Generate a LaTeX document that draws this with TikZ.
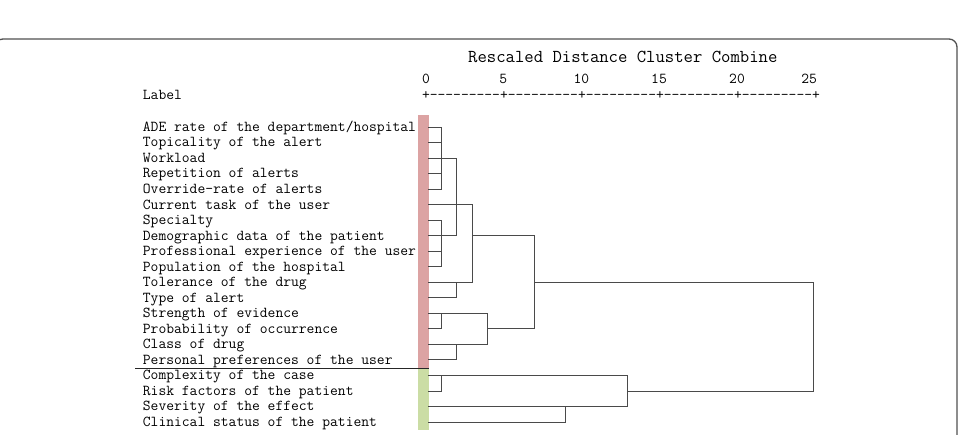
\documentclass[tikz,border=0pt]{standalone}
\usepackage{fontspec}
\definecolor{pinkbar}{HTML}{DCA3A3}
\definecolor{greenbar}{HTML}{CBDDA5}
\definecolor{frameclr}{HTML}{505050}
\definecolor{dendro}{HTML}{4A4A4A}
\newcommand{\dgLblFont}{\fontsize{15.15}{16}\selectfont\ttfamily}
\newcommand{\dgTitleFont}{\fontsize{18.2}{19}\selectfont\ttfamily}
\begin{document}
\begin{tikzpicture}[x=1pt,y=-1pt,
  lbl/.style={anchor=base west,inner sep=0pt,font=\dgLblFont,text=black},
  num/.style={anchor=base,inner sep=0pt,font=\dgLblFont,text=black},
  dline/.style={draw=dendro,line width=1.1pt,line cap=rect},
]
\useasboundingbox (0,0) rectangle (961,434);
\begin{scope}
\clip (0,0) rectangle (961,434);
\draw[frameclr,line width=1.3pt,rounded corners=8pt] (-5,39) rectangle (957,470);
\end{scope}

% header
\node[anchor=base,inner sep=0pt,font=\dgTitleFont,text=black] (title) at (622.8,62.7) {Rescaled Distance Cluster Combine};
\node[num] (n0) at (426,83.3) {0};
\node[num] (n5) at (503.3,83.3) {5};
\node[num] (n10) at (581.3,83.3) {10};
\node[num] (n15) at (659,83.3) {15};
\node[num] (n20) at (737,83.3) {20};
\node[num] (n25) at (809.2,83.3) {25};
\node[lbl] (label) at (142.7,99.3) {Label};
\node[lbl] (axis) at (421.8,99.3) {+---------+---------+---------+---------+---------+};

% colour bars
\fill[pinkbar] (417.5,115) rectangle (429,368.3);
\fill[greenbar] (417.5,368.3) rectangle (429,430);
\coordinate (sepL) at (135,368.3);
\coordinate (sepR) at (429,368.3);
\draw[black!85,line width=1.4pt] (sepL) -- (sepR);

% labels
\node[lbl] (t1) at (142.7,131.3) {ADE rate of the department/hospital};
\node[lbl] (t2) at (142.7,146.8) {Topicality of the alert};
\node[lbl] (t3) at (142.7,162.4) {Workload};
\node[lbl] (t4) at (142.7,177.9) {Repetition of alerts};
\node[lbl] (t5) at (142.7,193.4) {Override-rate of alerts};
\node[lbl] (t6) at (142.7,209.0) {Current task of the user};
\node[lbl] (t7) at (142.7,224.5) {Specialty};
\node[lbl] (t8) at (142.7,240.0) {Demographic data of the patient};
\node[lbl] (t9) at (142.7,255.5) {Professional experience of the user};
\node[lbl] (t10) at (142.7,271.1) {Population of the hospital};
\node[lbl] (t11) at (142.7,286.6) {Tolerance of the drug};
\node[lbl] (t12) at (142.7,302.1) {Type of alert};
\node[lbl] (t13) at (142.7,317.7) {Strength of evidence};
\node[lbl] (t14) at (142.7,333.2) {Probability of occurrence};
\node[lbl] (t15) at (142.7,348.7) {Class of drug};
\node[lbl] (t16) at (142.7,364.3) {Personal preferences of the user};
\node[lbl] (t17) at (142.7,379.8) {Complexity of the case};
\node[lbl] (t18) at (142.7,395.3) {Risk factors of the patient};
\node[lbl] (t19) at (142.7,410.8) {Severity of the effect};
\node[lbl] (t20) at (142.7,426.4) {Clinical status of the patient};

% leaf points
\coordinate (r1) at (429,127.5);
\coordinate (r2) at (429,142.5);
\coordinate (r3) at (429,158.5);
\coordinate (r4) at (429,173.5);
\coordinate (r5) at (429,189.5);
\coordinate (r6) at (429,204.5);
\coordinate (r7) at (429,220.5);
\coordinate (r8) at (429,235.5);
\coordinate (r9) at (429,251.5);
\coordinate (r10) at (429,266.5);
\coordinate (r11) at (429,282.5);
\coordinate (r12) at (429,297.5);
\coordinate (r13) at (429,313.5);
\coordinate (r14) at (429,328.5);
\coordinate (r15) at (429,344.5);
\coordinate (r16) at (429,359.5);
\coordinate (r17) at (429,375.5);
\coordinate (r18) at (429,391.5);
\coordinate (r19) at (429,406.5);
\coordinate (r20) at (429,422.5);

% distance levels
\coordinate (L1) at (441.5,0);
\coordinate (L2) at (456.5,0);
\coordinate (L3) at (472.5,0);
\coordinate (L4) at (487.5,0);
\coordinate (L7) at (534.5,0);
\coordinate (L9) at (565.5,0);
\coordinate (L13) at (627.5,0);
\coordinate (L25) at (813.5,0);

% cluster 1-5
\draw[dline] (r1) -- (r1 -| L1) -- (r5 -| L1) -- (r5);
\draw[dline] (r2) -- (r2 -| L1);
\draw[dline] (r4) -- (r4 -| L1);
\draw[dline] (r3) -- (r3 -| L2) -- (r8 -| L2);
% cluster 7-10
\draw[dline] (r7) -- (r7 -| L1) -- (r10 -| L1) -- (r10);
\draw[dline] (r9) -- (r9 -| L1);
\draw[dline] (r8) -- (r8 -| L2);
% level 3
\draw[dline] (r6) -- (r6 -| L3) -- (r11 -| L3) -- (r11);
\draw[dline] (r12) -- (r12 -| L2) -- (r11 -| L2);
% 13-16
\draw[dline] (r13) -- (r13 -| L4) -- (r15 -| L4) -- (r15);
\draw[dline] (r13 -| L1) -- (r14 -| L1) -- (r14);
\draw[dline] (r16) -- (r16 -| L2) -- (r15 -| L2);
% level 7
\draw[dline] (r8 -| L3) -- (r8 -| L7) -- (r14 -| L7) -- (r14 -| L4);
% green group
\draw[dline] (r17) -- (r17 -| L13) -- (r19 -| L13) -- (r19);
\draw[dline] (r17 -| L1) -- (r18 -| L1) -- (r18);
\draw[dline] (r20) -- (r20 -| L9) -- (r19 -| L9);
% top join
\draw[dline] (r11 -| L7) -- (r11 -| L25) -- (r18 -| L25) -- (r18 -| L13);
\end{tikzpicture}
\end{document}
